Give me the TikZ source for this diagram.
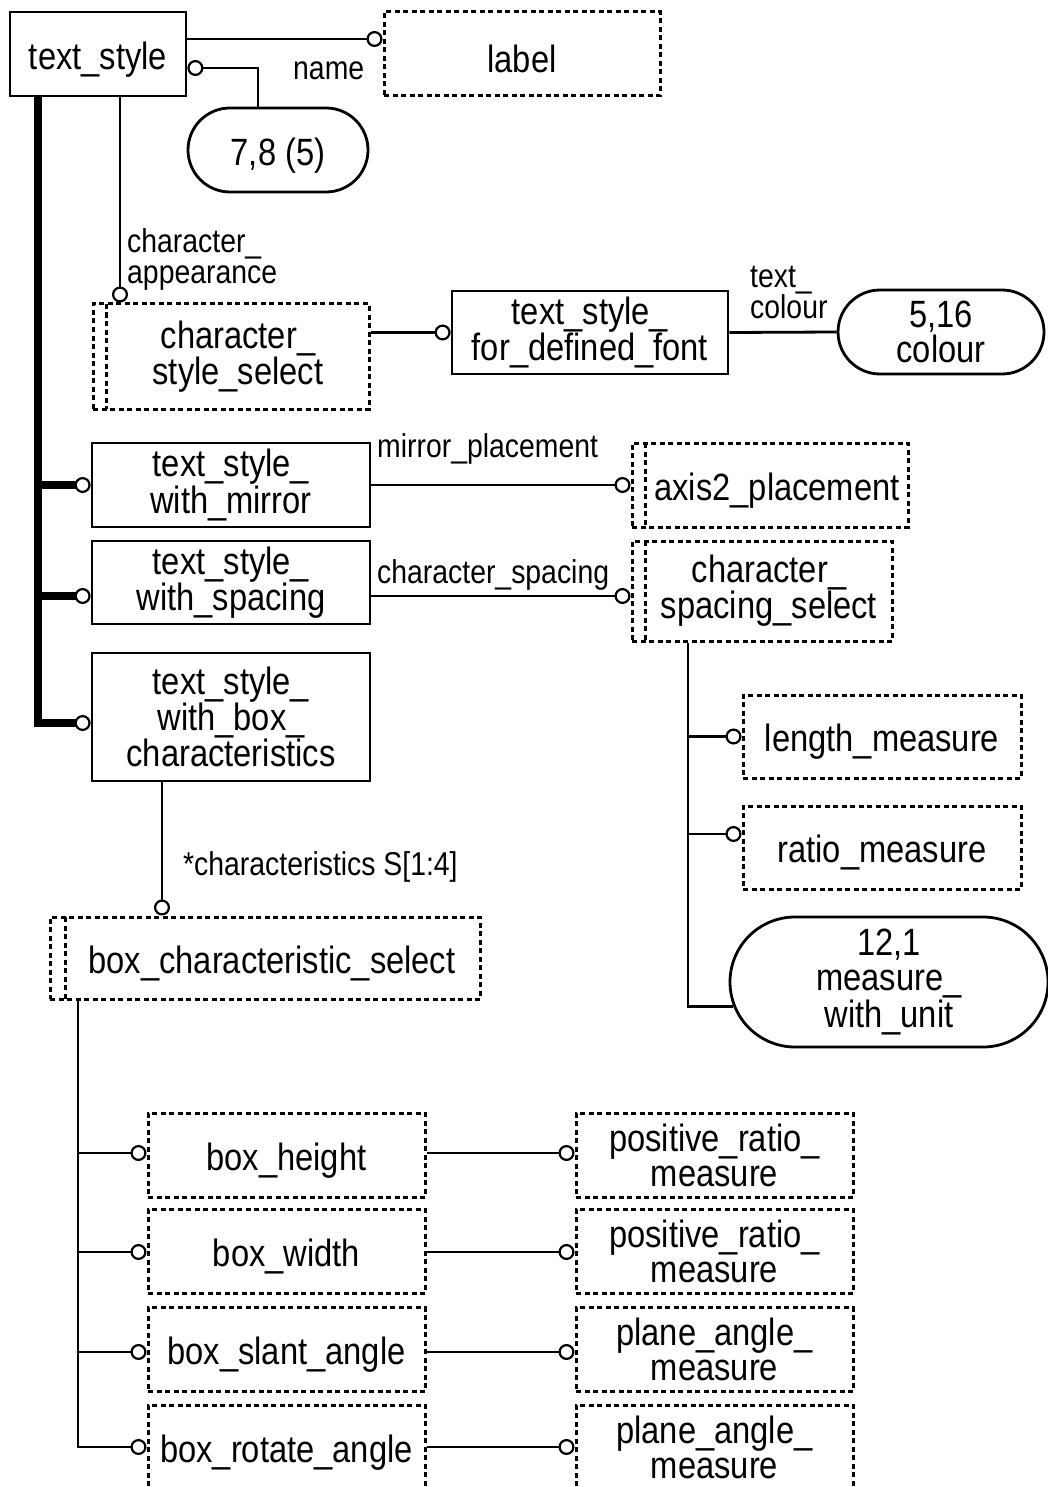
\documentclass[tikz,border=0pt]{standalone}
\usepackage{fontspec}
\setmainfont{Liberation Sans}[FakeStretch=0.86]
\usetikzlibrary{arrows.meta,shapes.misc}
\newcommand\boxfont{\fontsize{38}{35}\selectfont}
\newcommand\linkfont{\fontsize{33}{31}\selectfont}
\newcommand\selpad{\hspace*{14pt}}
\begin{document}
\begin{tikzpicture}[x=1pt,y=-1pt,
  lw/.style={line width=2.8pt},
  dline/.style={line width=3pt,dash pattern=on 5pt off 3.5pt},
  sz/.style 2 args={minimum width=#1pt,minimum height=#2pt},
  entity/.style={draw,lw,fill=white,inner sep=0pt,align=center,font=\boxfont,
                 execute at begin node={\rule{0pt}{38pt}}},
  dtype/.style={entity,dline},
  seltype/.style={dtype,path picture={
      \draw[dline] ([xshift=#1]path picture bounding box.north west)
                -- ([xshift=#1]path picture bounding box.south west);}},
  seltype/.default=13pt,
  oval/.style={entity,rounded rectangle},
  rel/.style={lw},
  bus/.style={line width=7.5pt},
  ring/.style={-{Circle[open,length=16pt,width=16pt,line width=2.2pt]}},
  ringstart/.style={{Circle[open,length=16pt,width=16pt,line width=2.2pt]}-},
  tag/.style={font=\linkfont,inner sep=0pt}]
\useasboundingbox (0,0) rectangle (1048,1487);

% ---------- entities and types ----------
\node[entity,sz={176}{84}] (ts) at (98,54) {text\_style};
\node[dtype,sz={276}{84}] (label) at (522,54) {label};
\node[oval,sz={180}{84}] (n78) at (278,150) {7,8 (5)};
\node[seltype,sz={276}{105}] (css) at (231,356.5) {\selpad character\_\\\selpad style\_select};
\node[entity,sz={276}{83}] (tsdf) at (590,332.5) {text\_style\_\\for\_defined\_font};
\node[oval,sz={206}{84}] (col) at (941,332) {5,16\\colour};
\node[entity,sz={278}{84}] (tsm) at (231,485) {text\_style\_\\with\_mirror};
\node[seltype,sz={276}{84}] (a2p) at (770,485) {\selpad axis2\_placement};
\node[entity,sz={278}{83}] (tss) at (231,582.5) {text\_style\_\\with\_spacing};
\node[seltype,sz={260}{100}] (cspc) at (762,591) {\selpad character\_\\\selpad spacing\_select};
\node[entity,sz={278}{128}] (tsb) at (231,717) {text\_style\_\\with\_box\_\\characteristics};
\node[dtype,sz={278}{83}] (lm) at (882,736.5) {length\_measure};
\node[dtype,sz={278}{83}] (rm) at (882,847.5) {ratio\_measure};
\node[oval,sz={318}{130}] (mwu) at (889,982) {12,1\\measure\_\\with\_unit};
\node[seltype=15pt,sz={430}{82}] (bcs) at (265,958) {\selpad box\_characteristic\_select};
\node[dtype,sz={277}{84}] (bh) at (286.5,1155) {box\_height};
\node[dtype,sz={277}{84}] (bw) at (286.5,1251) {box\_width};
\node[dtype,sz={277}{84}] (bsa) at (286.5,1349.5) {box\_slant\_angle};
\node[dtype,sz={277}{84}] (bra) at (286.5,1447) {box\_rotate\_angle};
\node[dtype,sz={277}{84}] (pr1) at (714.5,1155) {positive\_ratio\_\\measure};
\node[dtype,sz={277}{84}] (pr2) at (714.5,1251) {positive\_ratio\_\\measure};
\node[dtype,sz={277}{84}] (pa1) at (714.5,1349.5) {plane\_angle\_\\measure};
\node[dtype,sz={277}{84}] (pa2) at (714.5,1447) {plane\_angle\_\\measure};

% ---------- bus lines and branch points ----------
\coordinate (busL) at (38,0);
\coordinate (busS) at (120,0);
\coordinate (busN) at (258,0);
\coordinate (busC) at (162,0);
\coordinate (busB) at (78,0);
\coordinate (busR) at (688,0);
\coordinate (tsbP) at ([yshift=-6pt]tsb.west);
\coordinate (tssP) at ([yshift=-13.5pt]tss.west);
\coordinate (rmP) at ([yshift=13.5pt]rm.west);
\coordinate (bhP) at ([yshift=2pt]bh.west);
\coordinate (bwP) at ([yshift=-1pt]bw.west);
\coordinate (bsaP) at ([yshift=-2.5pt]bsa.west);
\coordinate (braP) at (bra.west);

% ---------- subtype tree (thick) ----------
\draw[bus,ring] (ts.south -| busL) |- (tsbP);
\draw[bus,ring] (tsm.west -| busL) -- (tsm.west);
\draw[bus,ring] (tssP -| busL) -- (tssP);

% ---------- attributes ----------
\draw[rel,ring] ([yshift=15pt]ts.east) -- ([yshift=15pt]label.west);
\draw[rel,ringstart] ([yshift=-14pt]ts.east) -| (n78.north -| busN);
\draw[rel,ring] (ts.south -| busS) -- (css.north -| busS);
\draw[rel,ring] (css.east |- tsdf.west) -- (tsdf.west);
\draw[rel] (tsdf.east) -- (col.west);
\draw[rel,ring] (tsm.east) -- (a2p.west);
\draw[rel,ring] (tssP -| tss.east) -- (tssP -| cspc.west);
\draw[rel,ring] (tsb.south -| busC) -- (bcs.north -| busC);

% ---------- character_spacing_select ----------
\draw[rel] (cspc.south -| busR) |- (mwu.189);
\draw[rel,ring] (lm.west -| busR) -- (lm.west);
\draw[rel,ring] (rmP -| busR) -- (rmP);

% ---------- box_characteristic_select ----------
\draw[rel,ring] (bcs.south -| busB) |- (braP);
\draw[rel,ring] (bhP -| busB) -- (bhP);
\draw[rel,ring] (bwP -| busB) -- (bwP);
\draw[rel,ring] (bsaP -| busB) -- (bsaP);
\draw[rel,ring] (bhP -| bh.east) -- (bhP -| pr1.west);
\draw[rel,ring] (bwP -| bw.east) -- (bwP -| pr2.west);
\draw[rel,ring] (bsaP -| bsa.east) -- (bsaP -| pa1.west);
\draw[rel,ring] (braP -| bra.east) -- (braP -| pa2.west);

% ---------- role labels ----------
\node[tag,anchor=base west] (lname) at (293,80) {name};
\node[tag,anchor=north west,align=left] (lca) at (127,228.5) {character\_\\appearance};
\node[tag,anchor=north west,align=left] (ltc) at (750,266) {text\_\\colour};
\node[tag,anchor=base west] (lmp) at (377,457) {mirror\_placement};
\node[tag,anchor=base west] (lcs) at (377,583) {character\_spacing};
\node[tag,anchor=base west] (lch) at (183,875) {*characteristics S[1:4]};
\end{tikzpicture}
\end{document}
